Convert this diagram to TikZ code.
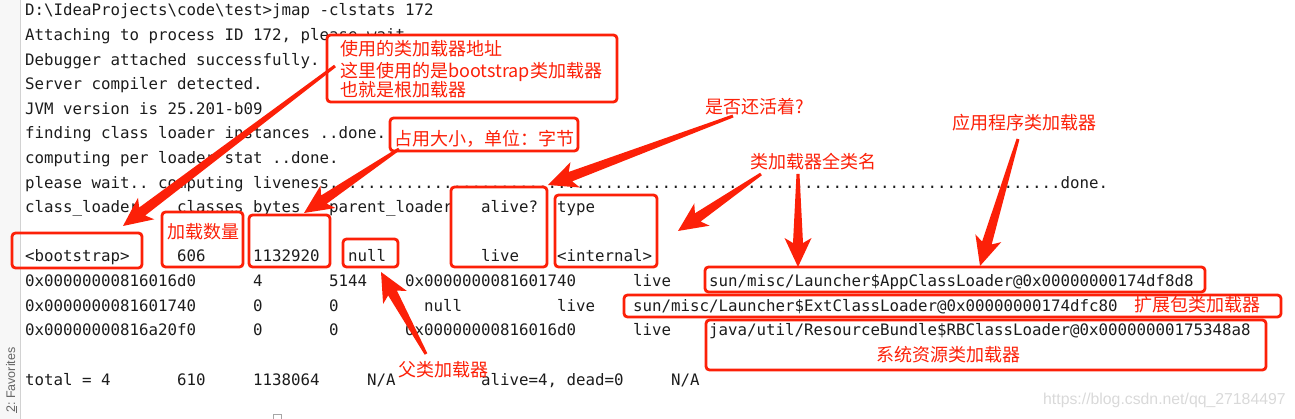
\documentclass[tikz,border=0pt]{standalone}
\usepackage{fontspec}
\setmonofont{DejaVu Sans Mono}
\newfontfamily\cjk{Noto Sans CJK SC}
\newfontfamily\uisans{Liberation Sans}
\usetikzlibrary{calc}
\definecolor{mark}{RGB}{252,32,8}
\definecolor{term}{RGB}{28,28,28}
\frenchspacing
\newcommand\fatarrow[2]{%
  \coordinate (fah) at ($(#2)!24pt!(#1)$);
  \coordinate (faw) at ($(#2)!29pt!(#1)$);
  \fill[arr] ($(#1)!1.5pt!90:(#2)$) -- ($(fah)!5pt!90:(#2)$) -- ($(faw)!13.5pt!90:(#2)$) -- (#2)
    -- ($(faw)!13.5pt!-90:(#2)$) -- ($(fah)!5pt!-90:(#2)$) -- ($(#1)!1.5pt!-90:(#2)$) -- cycle;}
\newcommand\tline[4]{\node[tt] (#1) at ({25+#2*9.5},#3) {#4};}
\begin{document}
\begin{tikzpicture}[x=1pt,y=-1pt,
  tt/.style={anchor=base west, inner sep=0pt, font=\ttfamily\fontsize{15.78}{18}\selectfont, text=term},
  note/.style={anchor=base west, inner sep=0pt, font=\cjk\fontsize{18}{20}\selectfont, text=mark},
  redbox/.style={draw=mark, line width=2.8pt, rounded corners=3.5pt, inner sep=0pt},
  arr/.style={fill=mark}]
\useasboundingbox (0,0) rectangle (1295,419);
% IDE side strip
\fill[gray!6] (0,0) rectangle (20,419);
\draw[gray!35, line width=0.8pt] (20.5,0) -- (20.5,419);
\node[anchor=base west, inner sep=0pt, rotate=90, font=\uisans\fontsize{12.5}{14}\selectfont, text=gray!80!black] (fav) at (15,413) {\underline{2}: Favorites};
% terminal text
\tline{r1}{0}{16}{D:\textbackslash IdeaProjects\textbackslash code\textbackslash test>jmap -clstats 172}
\tline{r2}{0}{40.6}{Attaching to process ID 172, please wait...}
\tline{r3}{0}{65.2}{Debugger attached successfully.}
\tline{r4}{0}{89.8}{Server compiler detected.}
\tline{r5}{0}{114.4}{JVM version is 25.201-b09}
\tline{r6}{0}{139}{finding class loader instances ..done.}
\tline{r7}{0}{163.6}{computing per loader stat ..done.}
\tline{r8}{0}{188.2}{please wait.. computing liveness.............................................................................done.}
\tline{h0}{0}{212.8}{class\_loader}
\tline{h1}{16}{212.8}{classes}
\tline{h2}{24}{212.8}{bytes}
\tline{h3}{32}{212.8}{parent\_loader}
\tline{h4}{48}{212.8}{alive?}
\tline{h5}{56}{212.8}{type}
\tline{a0}{0}{262}{<bootstrap>}
\tline{a1}{16}{262}{606}
\tline{a2}{24}{262}{1132920}
\tline{a3}{34}{262}{null}
\tline{a4}{48}{262}{live}
\tline{a5}{56}{262}{<internal>}
\tline{b0}{0}{286.6}{0x00000000816016d0}
\tline{b1}{24}{286.6}{4}
\tline{b2}{32}{286.6}{5144}
\tline{b3}{40}{286.6}{0x0000000081601740}
\tline{b4}{64}{286.6}{live}
\tline{b5}{72}{286.6}{sun/misc/Launcher\$AppClassLoader@0x00000000174df8d8}
\tline{c0}{0}{311.2}{0x0000000081601740}
\tline{c1}{24}{311.2}{0}
\tline{c2}{32}{311.2}{0}
\tline{c3}{42}{311.2}{null}
\tline{c4}{56}{311.2}{live}
\tline{c5}{64}{311.2}{sun/misc/Launcher\$ExtClassLoader@0x00000000174dfc80}
\tline{d0}{0}{335.8}{0x00000000816a20f0}
\tline{d1}{24}{335.8}{0}
\tline{d2}{32}{335.8}{0}
\tline{d3}{40}{335.8}{0x00000000816016d0}
\tline{d4}{64}{335.8}{live}
\tline{d5}{72}{335.8}{java/util/ResourceBundle\$RBClassLoader@0x00000000175348a8}
\tline{e0}{0}{385}{total = 4}
\tline{e1}{16}{385}{610}
\tline{e2}{24}{385}{1138064}
\tline{e3}{36}{385}{N/A}
\tline{e4}{48}{385}{alive=4, dead=0}
\tline{e5}{68}{385}{N/A}
% red boxes
\node[redbox, fill=white, minimum width=290pt, minimum height=67pt] (bxroot) at (472,68.5) {};
\node[redbox, fill=white, minimum width=188pt, minimum height=33pt] (bxsize) at (484,134.5) {};
\node[redbox, minimum width=81pt, minimum height=55pt] (bxcount) at (202.5,239.5) {};
\node[redbox, minimum width=81pt, minimum height=52pt] (bxbytes) at (289.5,241) {};
\node[redbox, minimum width=55pt, minimum height=28pt] (bxnull) at (370.5,253) {};
\node[redbox, minimum width=130pt, minimum height=35pt] (bxboot) at (77,250.5) {};
\node[redbox, minimum width=96pt, minimum height=80pt] (bxalive) at (499,227) {};
\node[redbox, minimum width=102pt, minimum height=72pt] (bxtype) at (606,231) {};
\node[redbox, minimum width=500pt, minimum height=25pt] (bxapp) at (955,279.5) {};
\node[redbox, minimum width=657pt, minimum height=22pt] (bxext) at (952.5,306) {};
\node[redbox, minimum width=560pt, minimum height=50pt] (bxrb) at (986,345) {};
% red notes
\node[note] (n1a) at (340,56) {使用的类加载器地址};
\node[note] (n1b) at (340,77.5) {这里使用的是bootstrap类加载器};
\node[note] (n1c) at (340,97) {也就是根加载器};
\node[note] (n2) at (394,146) {占用大小，单位：字节};
\node[note] (n3) at (167,239) {加载数量};
\node[note] (n4) at (705,114) {是否还活着?};
\node[note] (n5) at (750,169) {类加载器全类名};
\node[note] (n6) at (952,130) {应用程序类加载器};
\node[note] (n7) at (398,376) {父类加载器};
\node[note] (n8) at (876,362) {系统资源类加载器};
\node[note] (n9) at (1134,312) {扩展包类加载器};
% arrows
\coordinate (t1) at (335,66);   \coordinate (p1) at (123,226);
\coordinate (t2) at (399,149);  \coordinate (p2) at (304,213);
\coordinate (t3) at (733,116);  \coordinate (p3) at (548,185);
\coordinate (t4) at (761,174);  \coordinate (p4) at (678,231);
\coordinate (t5) at (798,174);  \coordinate (p5) at (798,267);
\coordinate (t6) at (1018,139); \coordinate (p6) at (980,266);
\coordinate (t7) at (426,354);  \coordinate (p7) at (381,272);
\fatarrow{t1}{p1}
\fatarrow{t2}{p2}
\fatarrow{t3}{p3}
\fatarrow{t4}{p4}
\fatarrow{t5}{p5}
\fatarrow{t6}{p6}
\fatarrow{t7}{p7}
% watermark and cursor mark
\node[anchor=base west, inner sep=0pt, font=\uisans\fontsize{15.8}{18}\selectfont, text=gray!30] (wm) at (1043,404) {https://blog.csdn.net/qq\_27184497};
\draw[gray!70, line width=0.8pt] (273.5,422) -- (273.5,414.5) -- (281.5,414.5) -- (281.5,422);
\end{tikzpicture}
\end{document}
